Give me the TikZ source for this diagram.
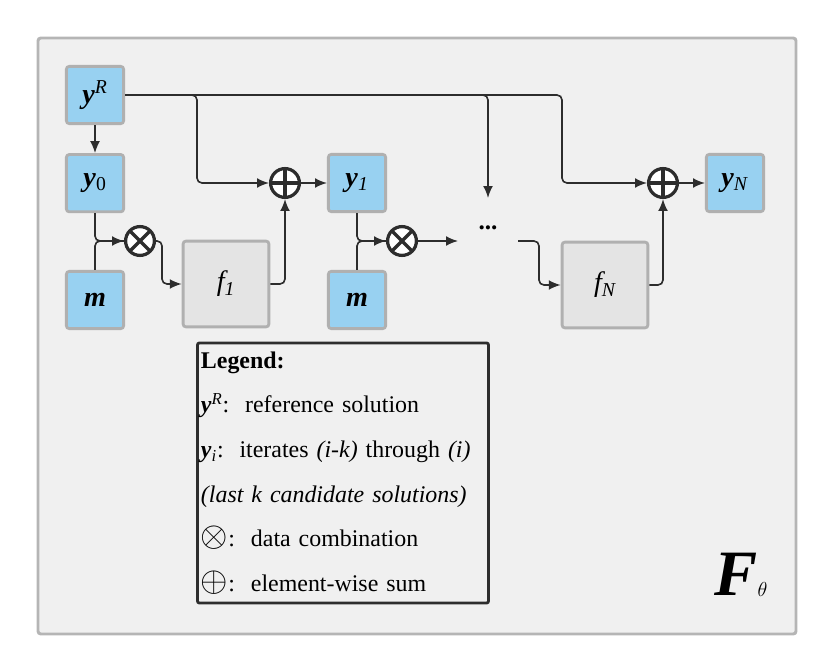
\documentclass[tikz,border=0pt]{standalone}
\usepackage{fontspec}
\setmainfont{Liberation Serif}
\usetikzlibrary{shapes,arrows.meta,positioning}
\definecolor{varblue}{RGB}{152,209,241}
\definecolor{edgegray}{RGB}{176,176,176}
\definecolor{netgray}{RGB}{228,228,228}
\definecolor{linedark}{RGB}{45,45,45}
\definecolor{bgfill}{RGB}{240,240,240}
\definecolor{framegray}{RGB}{181,181,181}
\newcommand{\vy}{\textbf{\textit{y}}}
\tikzstyle{var}=[rectangle,draw=edgegray,fill=varblue,line width=2pt,rounded corners=2pt,minimum size=40.7pt,inner sep=0pt,font=\fontsize{20}{20}\selectfont]
\tikzstyle{net}=[var,fill=netgray,minimum size=61pt]
\tikzstyle{opcirc}=[circle,draw=linedark,line width=2.3pt,fill=white,minimum size=20.5pt,inner sep=0pt]
\tikzstyle{comb}=[opcirc,path picture={\draw[line width=2.3pt,linedark] (path picture bounding box.south west) -- (path picture bounding box.north east) (path picture bounding box.north west) -- (path picture bounding box.south east);}]
\tikzstyle{sum}=[opcirc,path picture={\draw[line width=2.3pt,linedark] (path picture bounding box.north) -- (path picture bounding box.south) (path picture bounding box.west) -- (path picture bounding box.east);}]
\tikzstyle{wire}=[line width=1.15pt,draw=linedark,rounded corners=3.5pt]
\tikzstyle{arr}=[wire,-{Latex[length=8.5pt,width=7pt]}]
\tikzstyle{legendbox}=[rectangle,draw=linedark,line width=2pt,rounded corners=1.5pt,minimum width=207pt,minimum height=185pt,text width=202pt,align=left,inner sep=2.5pt,font=\fontsize{17}{31.7}\selectfont]

\begin{document}
\begin{tikzpicture}[x=0.025cm,y=-0.025cm]
\useasboundingbox (0,0) rectangle (830,670);
\draw[draw=framegray,fill=bgfill,line width=2.1pt,rounded corners=2pt] (38,38) rectangle (796,634);

% variables and blocks
\node (yR) [var] at (95,95) {\vy\textsuperscript{\textit{R}}};
\node (y0) [var, below=20pt of yR] {\vy\textsubscript{0}};
\node (m1) [var] at (95,300) {\textbf{\textit{m}}};
\node (ot1) [comb] at (140,241) {};
\node (f1) [net] at (226,284) {\textit{f\textsubscript{1}}};
\node (sum1) [sum] at (285,183) {};
\node (y1) [var] at (357,183) {\vy\textsubscript{\textit{1}}};
\node (m2) [var] at (357,300) {\textbf{\textit{m}}};
\node (ot2) [comb] at (402,241) {};
\node (dots) at (488,228) {\fontsize{18}{18}\selectfont\textbf{...}};
\node (fN) [net] at (605,285) {\textit{f\textsubscript{N}}};
\node (sum2) [sum] at (663,183) {};
\node (yN) [var] at (735,183) {\vy\textsubscript{\textit{N}}};

\coordinate (k1) at (197,95);
\coordinate (k2) at (488,95);
\coordinate (k3) at (562,95);
\coordinate (dtop) at (488,198);
\coordinate (din) at (458,241);
\coordinate (dout) at (518,241);

% reference solution feeds
\draw [arr] (yR) -- (y0);
\draw [arr] (yR.east) -- (k1) |- (sum1.west);
\draw [arr] (yR.east) -- (k2) -- (dtop);
\draw [arr] (yR.east) -- (k3) |- (sum2.west);

% first step
\draw [wire] (m1.north) |- (ot1.west);
\draw [arr] (y0.south) |- (ot1.west);
\draw [arr] (ot1.east) -- ++(6,0) |- (f1.west);
\draw [arr] (f1.east) -| (sum1.south);
\draw [arr] (sum1) -- (y1);

% second step
\draw [wire] (m2.north) |- (ot2.west);
\draw [arr] (y1.south) |- (ot2.west);
\draw [arr] (ot2) -- (din);

% last step
\draw [arr] (dout) -- ++(21,0) |- (fN.west);
\draw [arr] (fN.east) -| (sum2.south);
\draw [arr] (sum2) -- (yN);

\node (legend) [legendbox] at (343,473) {\textbf{Legend:}\\
\vy\textsuperscript{\textit{R}}:\ \ reference solution\\
\vy\textsubscript{\textit{i}}:\ \ iterates \textit{(i-k)} through \textit{(i)}\\
\textit{(last k candidate solutions)}\\
\scalebox{1.45}{$\otimes$}:\ \ data combination\\
\scalebox{1.45}{$\oplus$}:\ \ element-wise sum};

\node (Ftheta) at (741,575) {\fontsize{46}{46}\selectfont\textbf{\textit{F}}\raisebox{-1pt}{\fontsize{15}{15}\selectfont$\theta$}};
\end{tikzpicture}
\end{document}
